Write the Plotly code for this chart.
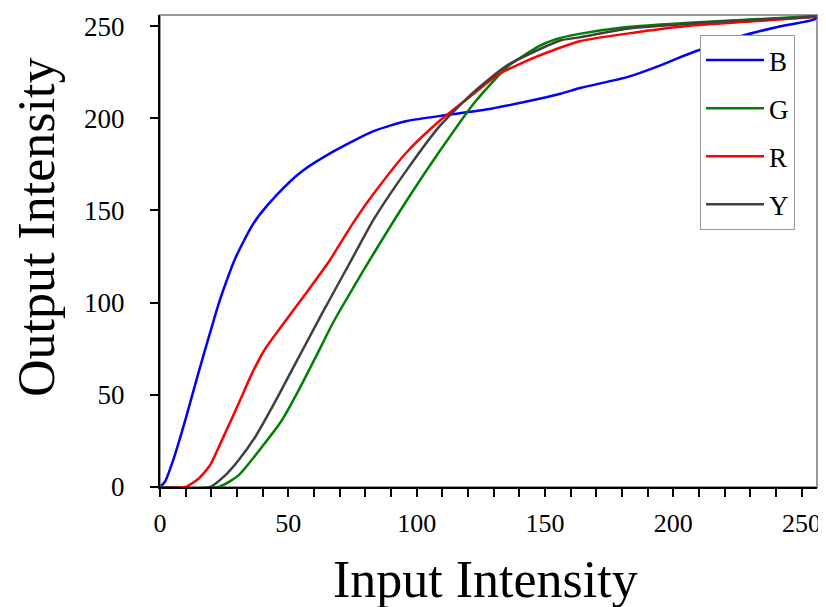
import plotly.graph_objects as go

b_x = [0, 2, 5, 10, 15, 20, 23, 26, 29, 32.5, 36, 39, 45.5, 54.6, 67.6, 83.2, 96.2, 113, 129, 142, 156, 164, 182, 195, 201.6, 210.7, 227.6, 240.6, 255, 256]
b_y = [0, 3, 14, 37, 62, 86, 100, 112, 123, 133, 142, 148, 158.5, 170.5, 182, 193, 198.5, 202, 205.2, 208.8, 213.3, 216.5, 222.3, 228.7, 232.5, 237.3, 245, 249.5, 253.6, 255]

g_x = [0, 22.8, 30.6, 39.7, 47.5, 54, 60.5, 67, 70.2, 76.1, 83.2, 96.2, 109.2, 122.2, 135.3, 148.3, 156, 163.9, 182, 208, 230, 256]
g_y = [0, 0, 6.3, 21.7, 36.2, 52.4, 70, 88, 96, 110, 126.5, 155.5, 182.6, 207.9, 227.8, 239.5, 243.5, 245.9, 249.5, 252, 253.5, 255.5]

r_x = [0, 9.8, 15, 19.5, 24.1, 30.6, 35.8, 41, 47.5, 56.6, 65.7, 70.2, 76.1, 83.2, 96.2, 109.2, 122.2, 131.4, 141.8, 154.8, 163.9, 182, 208, 230, 256]
r_y = [0, 0, 4.5, 11.8, 25.3, 45.2, 61.5, 75, 87.5, 104.5, 122, 132, 145, 159, 181.7, 198.9, 213.3, 223.3, 230.5, 237.7, 241.9, 245.9, 250.4, 252.5, 255]

y_x = [0, 19.5, 25.4, 30.6, 37.1, 43.6, 50.1, 56.6, 63.1, 69.6, 76.1, 83.2, 96.2, 109.2, 122.2, 135.3, 148.3, 156, 163.9, 182, 208, 230, 256]
y_y = [0, 0, 6.3, 14.5, 27.1, 43, 60, 77, 94, 110.5, 127, 145, 172, 196.1, 214.2, 228.7, 237.7, 242.2, 244, 248.6, 251.5, 253.3, 255]

series = [
    ("B", b_x, b_y, "#0000FF"),
    ("G", g_x, g_y, "#008000"),
    ("R", r_x, r_y, "#FF0000"),
    ("Y", y_x, y_y, "#404040"),
]

x_title = "Input Intensity"
y_title = "Output Intensity"

FONT = "Liberation Serif, Times New Roman, serif"

fig = go.Figure()
for name, xs, ys, col in series:
    fig.add_trace(go.Scatter(
        x=xs, y=ys, mode="lines", name=name, legendgroup=name,
        line=dict(color=col, width=2.5, shape="spline", smoothing=0.6),
    ))

fig.add_shape(type="rect", xref="paper", yref="paper", x0=0, y0=0, x1=1, y1=1,
              line=dict(color="#999999", width=2), layer="below")

fig.add_annotation(text=x_title, xref="paper", yref="paper", x=0.495, y=-0.196,
                   xanchor="center", yanchor="middle", showarrow=False,
                   font=dict(family=FONT, size=52, color="black"))
fig.add_annotation(text=y_title, xref="paper", yref="paper", x=-0.187, y=0.549,
                   xanchor="center", yanchor="middle", showarrow=False, textangle=-90,
                   font=dict(family=FONT, size=52, color="black"))

fig.update_layout(
    width=818, height=599,
    margin=dict(l=152, r=9, t=7, b=120),
    paper_bgcolor="white", plot_bgcolor="white",
    font=dict(family=FONT, color="black", size=27),
    showlegend=True,
    legend=dict(
        x=0.822, y=0.9576, xanchor="left", yanchor="top",
        bgcolor="white", bordercolor="#999999", borderwidth=1,
        font=dict(family=FONT, size=27, color="black"),
        tracegroupgap=10, itemwidth=58,
    ),
    xaxis=dict(
        range=[0, 256], showgrid=False, zeroline=False, automargin=False,
        showline=True, linecolor="black", linewidth=2,
        ticks="outside", ticklen=8, tickwidth=2, tickcolor="black",
        tickmode="linear", tick0=0, dtick=50,
        minor=dict(ticks="outside", ticklen=8, tickwidth=2, tickcolor="black", dtick=10, tick0=0),
        tickfont=dict(family=FONT, size=26, color="black"),
        ticklabelstandoff=4, ticklabeloverflow="allow",
    ),
    yaxis=dict(
        range=[0, 256], showgrid=False, zeroline=False, automargin=False,
        showline=True, linecolor="black", linewidth=2,
        ticks="outside", ticklen=8, tickwidth=2, tickcolor="black",
        tickmode="linear", tick0=0, dtick=50,
        tickfont=dict(family=FONT, size=27, color="black"),
        ticklabelstandoff=20, ticklabeloverflow="allow",
    ),
)

fig.write_html("out.html")
